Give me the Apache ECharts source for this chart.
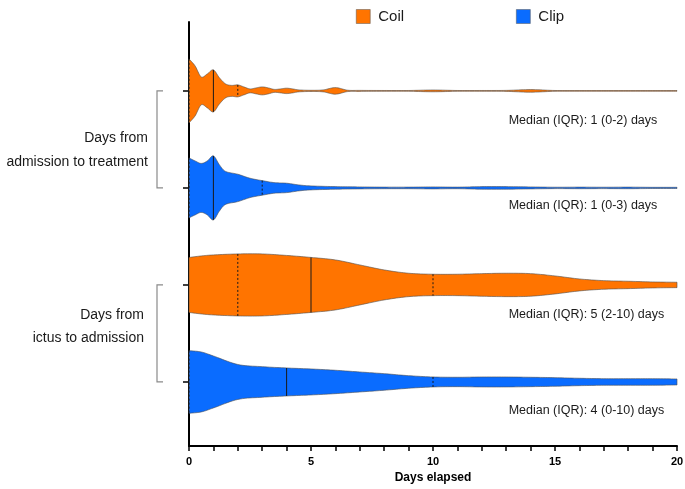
<!DOCTYPE html>
<html>
<head>
<meta charset="utf-8">
<script src="https://cdn.jsdelivr.net/npm/echarts@6/dist/echarts.min.js"></script>
<style>html,body{margin:0;padding:0;background:#fff;}#c{width:685px;height:489px;}</style>
</head>
<body>
<div id="c"></div>
<script>
// ---- data ----
const coilTreatDays = [0,0.25,0.5,0.75,1,1.25,1.5,1.75,2,2.25,2.5,2.75,3,3.25,3.5,3.75,4,4.25,4.5,5,5.5,6,6.5,7,8,9,10,11,12,13,14,15,16,17,18,19,20];
const coilTreatDensity = [32,25,14,17,21,13,7,5.5,6,4,2,3,4,3,1.5,2,2.7,2,1,0.6,1,3.3,0.7,0.5,0.4,0.4,0.9,0.4,0.4,0.5,1.3,0.4,0.3,0.3,0.3,0.3,0.3];
const clipTreatDays = [0,0.25,0.5,0.75,1,1.25,1.5,2,2.5,3,3.5,4,4.5,5,6,7,8,9,10,11,12,13,14,15,16,17,18,19,20];
const clipTreatDensity = [30,27,24.5,27,32,23,16.5,13.7,9.7,7.3,5.3,4.7,3,2,1.3,1,0.8,0.8,1,0.8,1.3,1.3,1,0.7,0.8,0.7,0.8,0.6,0.6];
const ictusDays = [0,0.5,1,2,3,4,5,6,7,8,9,10,11,12,13,14,15,16,17,18,19,20];
const coilIctusDensity = [27.5,29,30,31,31,29.5,27.5,25,20,15,11.7,10.7,10.7,11.3,11.7,11.3,9,6,4.3,3.7,3,2.7];
const clipIctusDensity = [31.3,30,26,17.5,15.3,14,13,11.7,10,8.3,6.3,5,4.7,5,5,4.7,4.3,3.7,3.3,3.3,3.3,3];
// [Q1, median, Q3]
const coilTreatStats = [0,1,2];
const clipTreatStats = [0,1,3];
const coilIctusStats = [2,5,10];
const clipIctusStats = [0,4,10];
const medianTexts = ['Median (IQR): 1 (0-2) days','Median (IQR): 1 (0-3) days','Median (IQR): 5 (2-10) days','Median (IQR): 4 (0-10) days'];
const groupLabels = [['Days from','admission to treatment'],['Days from','ictus to admission']];
const xTicks = [0,5,10,15,20];
const seriesNames = ['Coil','Clip'];

// ---- styling / layout ----
const COLORS = {Coil:'#ff7400', Clip:'#0a6cff'};
const FONT = '"Liberation Sans", Arial, Helvetica, sans-serif';
const WIDTH_SCALE = 1/97; // density units -> y-axis units

const violins = [
  {series:'Coil', row:4, days:coilTreatDays, dens:coilTreatDensity, stats:coilTreatStats, text:medianTexts[0], dy:30},
  {series:'Clip', row:3, days:clipTreatDays, dens:clipTreatDensity, stats:clipTreatStats, text:medianTexts[1], dy:18},
  {series:'Coil', row:2, days:ictusDays, dens:coilIctusDensity, stats:coilIctusStats, text:medianTexts[2], dy:30},
  {series:'Clip', row:1, days:ictusDays, dens:clipIctusDensity, stats:clipIctusStats, text:medianTexts[3], dy:29}
];
const groups = [
  {center:3.5, lines:groupLabels[0], dys:[-1.5,23], right:148},
  {center:1.5, lines:groupLabels[1], dys:[-18.5,5], right:144}
];

function sampleCurve(xs, ws){
  const out = [];
  const n = xs.length;
  const steps = 10;
  for (let i=0;i<n-1;i++){
    const p0=[xs[Math.max(i-1,0)], ws[Math.max(i-1,0)]];
    const p1=[xs[i], ws[i]];
    const p2=[xs[i+1], ws[i+1]];
    const p3=[xs[Math.min(i+2,n-1)], ws[Math.min(i+2,n-1)]];
    for (let s=0;s<steps;s++){
      const t=s/steps, t2=t*t, t3=t2*t;
      const f=(a,b,c,d)=>0.5*((2*b)+(-a+c)*t+(2*a-5*b+4*c-d)*t2+(-a+3*b-3*c+d)*t3);
      out.push([f(p0[0],p1[0],p2[0],p3[0]), Math.max(0.3, f(p0[1],p1[1],p2[1],p3[1]))]);
    }
  }
  out.push([xs[n-1], ws[n-1]]);
  return out;
}

function makeViolinSeries(name){
  const list = violins.filter(v=>v.series===name);
  return {
    name: name,
    type: 'custom',
    silent: true,
    itemStyle: {color: COLORS[name]},
    data: list.map(v=>[0, v.row]),
    renderItem: function(params, api){
      const v = list[params.dataIndex];
      const pts = sampleCurve(v.days, v.dens);
      const top = pts.map(p=>api.coord([p[0], v.row + p[1]*WIDTH_SCALE]));
      const bot = pts.map(p=>api.coord([p[0], v.row - p[1]*WIDTH_SCALE])).reverse();
      const children = [{
        type:'polygon',
        shape:{points: top.concat(bot)},
        style:{fill: COLORS[name], stroke:'#4d4d4d', lineWidth:0.6}
      }];
      v.stats.forEach((s, k)=>{
        const idx = v.days.indexOf(s);
        const w = v.dens[idx];
        const a = api.coord([s, v.row + w*WIDTH_SCALE]);
        const b = api.coord([s, v.row - w*WIDTH_SCALE]);
        children.push({
          type:'line',
          shape:{x1:a[0], y1:a[1], x2:b[0], y2:b[1]},
          style:{stroke:'#1a1a1a', lineWidth:1, lineDash: k===1 ? null : [2,2]}
        });
      });
      const c = api.coord([0, v.row]);
      const tx = api.coord([13.1, v.row]);
      children.push({
        type:'text', x: tx[0], y: c[1] + v.dy,
        style:{text: v.text, fill:'#1a1a1a', fontSize:12.5, fontFamily:FONT, align:'left', verticalAlign:'middle'}
      });
      return {type:'group', children: children};
    }
  };
}

const groupSeries = {
  name:'groups',
  type:'custom',
  silent:true,
  clip:false,
  data: groups.map(g=>[0, g.center]),
  renderItem: function(params, api){
    const g = groups[params.dataIndex];
    const t = api.coord([0, g.center + 0.5]);
    const b = api.coord([0, g.center - 0.5]);
    const m = api.coord([0, g.center]);
    const bx = t[0] - 32;
    const children = [{
      type:'polyline',
      shape:{points:[[bx+6, t[1]],[bx, t[1]],[bx, b[1]],[bx+6, b[1]]]},
      style:{stroke:'#8a8a8a', lineWidth:1.2, fill:null}
    }];
    g.lines.forEach((ln, i)=>{
      children.push({
        type:'text', x: g.right, y: m[1] + g.dys[i],
        style:{text: ln, fill:'#1a1a1a', fontSize:14, fontFamily:FONT, align:'right', verticalAlign:'middle'}
      });
    });
    return {type:'group', children:children};
  }
};

const chart = echarts.init(document.getElementById('c'), null, {renderer:'canvas'});
chart.setOption({
  animation:false,
  backgroundColor:'#ffffff',
  legend:{
    data: seriesNames,
    left: 351, top: 4,
    itemWidth:14, itemHeight:14, itemGap:112,
    icon:'rect',
    itemStyle:{borderColor:'#555', borderWidth:0.5},
    textStyle:{fontSize:15, color:'#1a1a1a', fontFamily:FONT, padding:[0,0,0,3]}
  },
  grid:{left:189, right:8, top:22, bottom:43, containLabel:false, outerBoundsMode:'none'},
  xAxis:{
    type:'value', min:0, max:20, interval:5,
    name:'Days elapsed', nameLocation:'middle', nameGap:26,
    nameTextStyle:{fontSize:12, fontWeight:'bold', color:'#000', fontFamily:FONT},
    axisLine:{show:true, onZero:false, lineStyle:{color:'#000', width:2}},
    axisTick:{show:true, length:5, lineStyle:{color:'#000', width:1.5}, customValues: xTicks},
    minorTick:{show:true, splitNumber:5, length:5, lineStyle:{color:'#000', width:1.5}},
    axisLabel:{fontSize:11, fontWeight:'bold', color:'#000', fontFamily:FONT, margin:10, customValues: xTicks},
    splitLine:{show:false}, minorSplitLine:{show:false}
  },
  yAxis:{
    type:'value', min:0.34, max:4.71,
    axisLine:{show:true, onZero:false, lineStyle:{color:'#000', width:2}},
    axisTick:{show:true, length:6, lineStyle:{color:'#000', width:1.5}, customValues:[1,2,3,4]},
    axisLabel:{show:false},
    splitLine:{show:false}
  },
  series:[groupSeries, makeViolinSeries('Coil'), makeViolinSeries('Clip')]
});
</script>
</body>
</html>
